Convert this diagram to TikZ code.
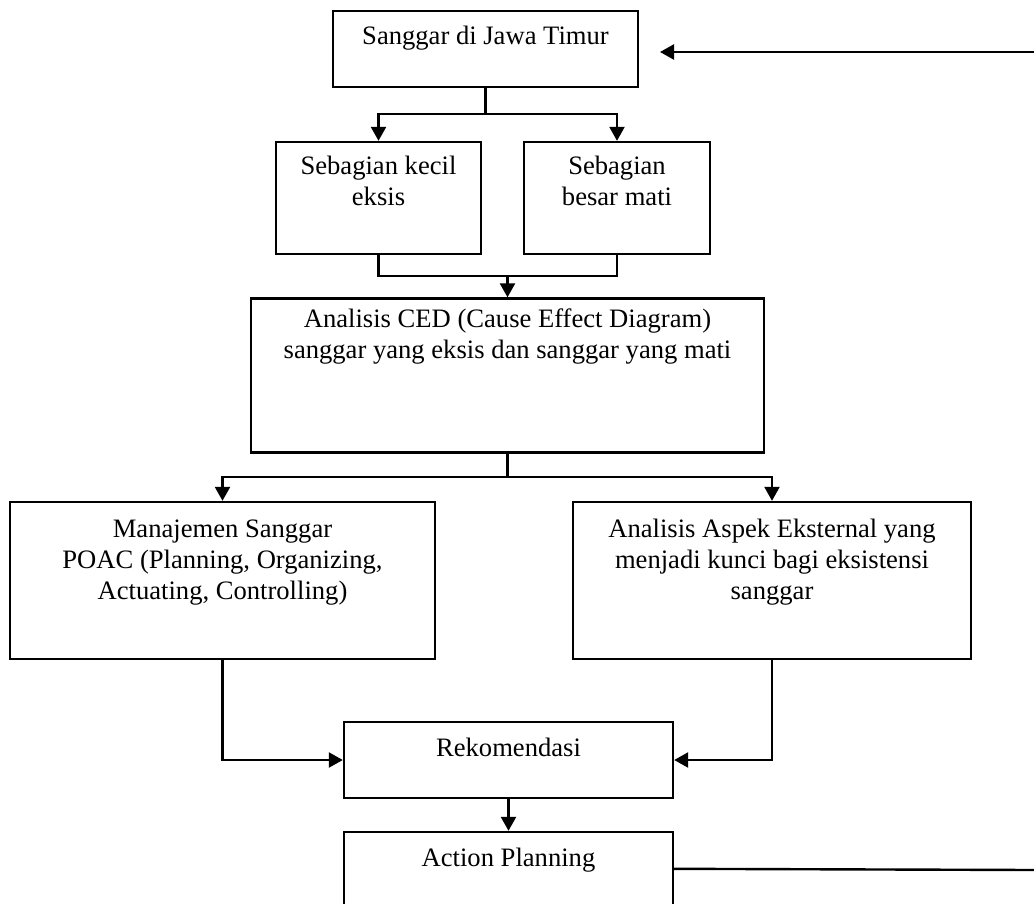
\documentclass[tikz,border=0pt]{standalone}
\usepackage{fontspec}
\setmainfont{Liberation Serif}
\usetikzlibrary{arrows.meta}
\newcommand\firststrut{\rule{0pt}{19pt}}
\begin{document}
\begin{tikzpicture}[x=1pt,y=-1pt,
  box/.style={draw, line width=2.4pt, rectangle, inner sep=0pt},
  txt/.style={align=center, inner sep=0pt, anchor=north, font=\fontsize{26.6}{31}\selectfont},
  conn/.style={line width=2.4pt},
  arr/.style={line width=2.4pt, -{Triangle[length=14pt,width=15pt]}}]
\useasboundingbox (0,0) rectangle (1034,903);
\clip (0,0) rectangle (1034,903);
\fill[white] (0,0) rectangle (1034,903);

% boxes
\node[box, minimum width=305pt, minimum height=76pt] (top) at (485.5,49) {};
\node[box, minimum width=205pt, minimum height=112pt] (kecil) at (378.5,198) {};
\node[box, minimum width=186pt, minimum height=112pt] (besar) at (617,198) {};
\node[box, minimum width=513pt, minimum height=154pt] (ced) at (507.5,375.5) {};
\node[box, minimum width=425pt, minimum height=157pt] (man) at (222.5,580.5) {};
\node[box, minimum width=398pt, minimum height=157pt] (eks) at (772,580.5) {};
\node[box, minimum width=329pt, minimum height=76pt] (rek) at (508.5,760) {};
\node[box, minimum width=329pt, minimum height=140pt] (act) at (508.5,902) {};

% texts
\node[txt] (topT) at ([yshift=-15pt]top.north) {\firststrut Sanggar di Jawa Timur};
\node[txt] (kecilT) at ([yshift=-14pt]kecil.north) {\firststrut Sebagian kecil\\eksis};
\node[txt] (besarT) at ([yshift=-14pt]besar.north) {\firststrut Sebagian\\besar mati};
\node[txt] (cedT) at ([yshift=-11pt]ced.north) {\firststrut Analisis CED (Cause Effect Diagram)\\sanggar yang eksis dan sanggar yang mati};
\node[txt] (manT) at ([yshift=-17pt]man.north) {\firststrut Manajemen Sanggar\\POAC (Planning, Organizing,\\Actuating, Controlling)};
\node[txt] (eksT) at ([yshift=-17pt]eks.north) {\firststrut Analisis Aspek Eksternal yang\\menjadi kunci bagi eksistensi\\sanggar};
\node[txt] (rekT) at ([yshift=-16pt]rek.north) {\firststrut Rekomendasi};
\node[txt] (actT) at ([yshift=-16pt]act.north) {\firststrut Action Planning};

% connectors
\coordinate (j1) at (485.5,114);
\draw[conn] (top.south) -- (j1);
\draw[arr] (j1) -| (kecil.north);
\draw[arr] (j1) -| (besar.north);

\coordinate (j2) at (507.5,276);
\draw[conn] (kecil.south) |- (j2);
\draw[conn] (besar.south) |- (j2);
\draw[arr] (j2) -- (ced.north);

\coordinate (j3) at (507.5,477);
\draw[conn] (ced.south) -- (j3);
\draw[arr] (j3) -| (man.north);
\draw[arr] (j3) -| (eks.north);

\draw[arr] (man.south) |- (rek.west);
\draw[arr] (eks.south) |- (rek.east);
\draw[arr] (rek.south) -- (act.north);

\coordinate (actR) at ([yshift=-38pt]act.north east);
\coordinate (edgeR) at (1034,870);
\draw[conn] (actR) -- (edgeR);

\coordinate (edgeT) at (1034,52);
\coordinate (topIn) at (660,52);
\draw[arr] (edgeT) -- (topIn);
\end{tikzpicture}
\end{document}
